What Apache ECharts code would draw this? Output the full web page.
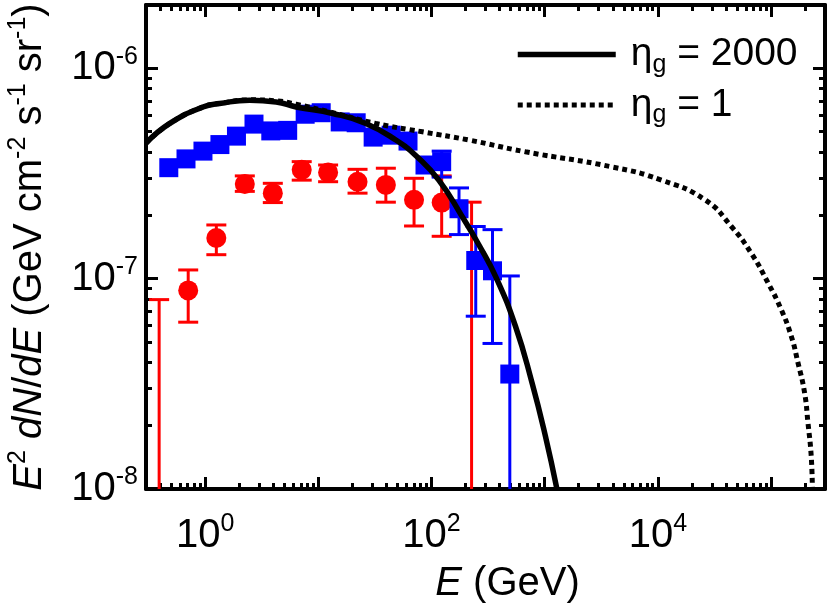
<!DOCTYPE html>
<html>
<head>
<meta charset="utf-8">
<script src="https://cdn.jsdelivr.net/npm/echarts@6/dist/echarts.min.js"></script>
<style>
  html, body { margin: 0; padding: 0; background: #fff; }
  #chart { width: 830px; height: 611px; }
</style>
</head>
<body>
<div id="chart"></div>
<script>
// blue squares (E in GeV, E^2 dN/dE)
const blueE = [0.477, 0.677, 0.956, 1.35, 1.89, 2.70, 3.80, 5.36, 7.65, 10.6, 15.6, 21.6, 30.5, 44.0, 62.0, 87.6, 123, 175, 246, 346, 492];
const blueY = [3.37e-7, 3.71e-7, 4.04e-7, 4.34e-7, 4.76e-7, 5.43e-7, 5.04e-7, 5.07e-7, 6.05e-7, 6.15e-7, 5.56e-7, 5.51e-7, 4.71e-7, 4.81e-7, 4.51e-7, 3.47e-7, 3.60e-7, 2.15e-7, 1.22e-7, 1.09e-7, 3.52e-8];
// error bars only where they stick out of the square
const blueErrE = [123, 175, 246, 346, 492];
const blueErrLo = [3.04e-7, 1.62e-7, 6.63e-8, 4.92e-8, 1e-9];
const blueErrHi = [4.04e-7, 2.70e-7, 1.77e-7, 1.71e-7, 1.03e-7];

// red circles
const redE = [0.708, 1.255, 2.24, 3.96, 7.13, 12.2, 22.2, 39.5, 70.1, 123];
const redY = [8.79e-8, 1.56e-7, 2.82e-7, 2.55e-7, 3.29e-7, 3.20e-7, 2.89e-7, 2.79e-7, 2.37e-7, 2.30e-7];
const redLo = [6.21e-8, 1.30e-7, 2.60e-7, 2.30e-7, 2.94e-7, 2.89e-7, 2.55e-7, 2.31e-7, 1.78e-7, 1.59e-7];
const redHi = [1.10e-7, 1.80e-7, 3.08e-7, 2.84e-7, 3.60e-7, 3.47e-7, 3.31e-7, 3.35e-7, 3.00e-7, 3.08e-7];
// red bars with no point shown (value below the axis)
const redUlE = [0.392, 226];
const redUlHi = [7.95e-8, 2.31e-7];

// model curves
const eta2000E = [0.299, 0.487, 0.956, 1.34, 2.47, 4.24, 6.36, 13.4, 26.3, 48.4, 74.5, 116, 187, 262, 370, 552, 773, 1014, 1283];
const eta2000Y = [4.40e-7, 5.47e-7, 6.55e-7, 6.80e-7, 7.05e-7, 6.92e-7, 6.55e-7, 6.10e-7, 5.47e-7, 4.56e-7, 3.80e-7, 2.94e-7, 1.97e-7, 1.45e-7, 1.02e-7, 5.94e-8, 3.20e-8, 1.79e-8, 1e-8];
const eta1E = [0.299, 0.487, 0.956, 1.34, 2.47, 4.24, 6.36, 12.5, 32.2, 83, 214, 676, 3918, 1.08e4, 2.61e4, 4.47e4, 6.70e4, 9.41e4, 1.23e5, 1.51e5, 1.73e5, 1.98e5, 2.12e5, 2.265e5, 2.32e5];
const eta1Y = [4.40e-7, 5.47e-7, 6.55e-7, 6.80e-7, 7.08e-7, 7.0e-7, 6.75e-7, 6.21e-7, 5.47e-7, 4.99e-7, 4.56e-7, 4.01e-7, 3.40e-7, 2.94e-7, 2.37e-7, 1.77e-7, 1.32e-7, 9.55e-8, 7.14e-8, 5.33e-8, 3.99e-8, 2.87e-8, 2.07e-8, 1.44e-8, 1e-8];

// axes
const xMin = 0.3, xMax = 3e5;
const yMin = 1e-8, yMax = 2e-6;
const xMajor = [1, 10, 100, 1e3, 1e4, 1e5];
const xLabels = [1, 100, 1e4];
const yMajor = [1e-8, 1e-7, 1e-6];
const yLabels = [1e-8, 1e-7, 1e-6];

function minorTicks(lo, hi) {
  const out = [];
  for (let p = Math.floor(Math.log10(lo)); p <= Math.ceil(Math.log10(hi)); p++) {
    for (let m = 2; m <= 9; m++) {
      const v = m * Math.pow(10, p);
      if (v > lo * 1.0001 && v < hi * 0.9999) out.push(v);
    }
  }
  return out;
}
const xMinor = minorTicks(xMin, xMax);
const yMinor = minorTicks(yMin, yMax);

const font = "'Liberation Sans', Arial, sans-serif";
const black = '#000';
const solidStyle = { color: black, width: 5.5 };
const dotStyle = { color: black, width: 5, type: [5, 4], cap: 'butt' };

const powRich = {
  b: { fontSize: 40, lineHeight: 48, fontFamily: font, color: black },
  s: { fontSize: 25, lineHeight: 22, verticalAlign: 'top', fontFamily: font, color: black },
};
const powLabel = (v) => '{b|10}{s|' + Math.round(Math.log10(v)) + '}';

function errorBar(color, half) {
  return function (params, api) {
    const x = api.value(0);
    const pTop = api.coord([x, api.value(2)]);
    const pBot = api.coord([x, api.value(1)]);
    const style = { stroke: color, lineWidth: 3 };
    return {
      type: 'group',
      children: [
        { type: 'line', shape: { x1: pTop[0], y1: pTop[1], x2: pBot[0], y2: pBot[1] }, style },
        { type: 'line', shape: { x1: pTop[0] - half, y1: pTop[1], x2: pTop[0] + half, y2: pTop[1] }, style },
        { type: 'line', shape: { x1: pBot[0] - half, y1: pBot[1], x2: pBot[0] + half, y2: pBot[1] }, style },
      ],
    };
  };
}

function xAxisDef(position, ticks, len, withLine, extra) {
  return Object.assign({
    type: 'log', min: xMin, max: xMax, position,
    axisLine: { show: withLine, lineStyle: { color: black, width: 4 } },
    axisTick: { show: true, inside: true, length: len, customValues: ticks, lineStyle: { color: black, width: 3 } },
    axisLabel: { show: false },
    splitLine: { show: false },
  }, extra || {});
}
function yAxisDef(position, ticks, len, withLine, extra) {
  return Object.assign({
    type: 'log', min: yMin, max: yMax, position,
    axisLine: { show: withLine, lineStyle: { color: black, width: 4 } },
    axisTick: { show: true, inside: true, length: len, customValues: ticks, lineStyle: { color: black, width: 3 } },
    axisLabel: { show: false },
    splitLine: { show: false },
  }, extra || {});
}

const chart = echarts.init(document.getElementById('chart'));

chart.setOption({
  animation: false,
  backgroundColor: '#fff',
  grid: { left: 146, right: 5, top: 5, bottom: 122, outerBoundsMode: 'none' },
  legend: {
    orient: 'vertical',
    left: 510,
    top: 30,
    itemWidth: 98,
    itemHeight: 14,
    itemGap: 8,
    itemStyle: { opacity: 0 },
    data: [
      { name: 'eta2000', itemStyle: { opacity: 0 }, lineStyle: solidStyle },
      { name: 'eta1', itemStyle: { opacity: 0 }, lineStyle: dotStyle },
    ],
    formatter: (name) => (name === 'eta2000' ? '{n|η}{s|g}{n| = 2000}' : '{n|η}{s|g}{n| = 1}'),
    textStyle: {
      padding: [0, 0, 0, 10],
      rich: {
        n: { fontSize: 39, lineHeight: 46, fontFamily: font, color: black },
        s: { fontSize: 25, lineHeight: 20, verticalAlign: 'bottom', fontFamily: font, color: black },
      },
    },
  },
  xAxis: [
    xAxisDef('bottom', xMajor, 12, true, {
      axisLabel: {
        show: true, customValues: xLabels, margin: 23,
        formatter: powLabel, rich: powRich,
      },
      name: '{i|E} (GeV)',
      nameLocation: 'middle',
      nameGap: 75,
      nameTextStyle: {
        padding: [0, 0, 0, 44],
        rich: {
          i: { fontSize: 40, fontStyle: 'italic', fontFamily: font, color: black },
        },
        fontSize: 40, fontFamily: font, color: black,
      },
    }),
    xAxisDef('bottom', xMinor, 6, false),
    xAxisDef('top', xMajor, 12, true),
    xAxisDef('top', xMinor, 6, false),
  ],
  yAxis: [
    yAxisDef('left', yMajor, 12, true, {
      axisLabel: {
        show: true, customValues: yLabels, margin: 8,
        formatter: powLabel, rich: powRich,
      },
      name: '{i|E}{s|2} {i|dN}/{i|dE} (GeV cm{s|-2} s{s|-1} sr{s|-1})',
      nameLocation: 'middle',
      nameRotate: 90,
      nameGap: 92,
      nameTextStyle: {
        fontSize: 40, fontFamily: font, color: black,
        rich: {
          i: { fontSize: 40, lineHeight: 48, fontStyle: 'italic', fontFamily: font, color: black },
          s: { fontSize: 25, lineHeight: 22, verticalAlign: 'top', fontFamily: font, color: black },
        },
      },
    }),
    yAxisDef('left', yMinor, 6, false),
    yAxisDef('right', yMajor, 12, true),
    yAxisDef('right', yMinor, 6, false),
  ],
  series: [
    {
      name: 'redUl',
      type: 'custom',
      clip: true,
      z: 2,
      renderItem: errorBar('#ff0000', 10),
      encode: { x: 0, y: [1, 2] },
      data: redUlE.map((e, i) => [e, 1e-9, redUlHi[i]]),
    },
    {
      name: 'redErr',
      type: 'custom',
      clip: true,
      z: 2,
      renderItem: errorBar('#ff0000', 10),
      encode: { x: 0, y: [1, 2] },
      data: redE.map((e, i) => [e, redLo[i], redHi[i]]),
    },
    {
      name: 'red',
      type: 'scatter',
      z: 3,
      symbol: 'circle',
      symbolSize: 20,
      itemStyle: { color: '#ff0000', opacity: 1 },
      data: redE.map((e, i) => [e, redY[i]]),
    },
    {
      name: 'blueErr',
      type: 'custom',
      clip: true,
      z: 4,
      renderItem: errorBar('#0000ff', 10),
      encode: { x: 0, y: [1, 2] },
      data: blueErrE.map((e, i) => [e, blueErrLo[i], blueErrHi[i]]),
    },
    {
      name: 'blue',
      type: 'scatter',
      z: 5,
      symbol: 'rect',
      symbolSize: 19,
      itemStyle: { color: '#0000ff', opacity: 1 },
      data: blueE.map((e, i) => [e, blueY[i]]),
    },
    {
      name: 'eta1',
      type: 'line',
      z: 6,
      smooth: true,
      symbol: 'none',
      itemStyle: { color: black },
      lineStyle: dotStyle,
      data: eta1E.map((e, i) => [e, eta1Y[i]]),
    },
    {
      name: 'eta2000',
      type: 'line',
      z: 7,
      smooth: true,
      symbol: 'none',
      itemStyle: { color: black },
      lineStyle: solidStyle,
      data: eta2000E.map((e, i) => [e, eta2000Y[i]]),
    },
  ],
});
</script>
</body>
</html>
